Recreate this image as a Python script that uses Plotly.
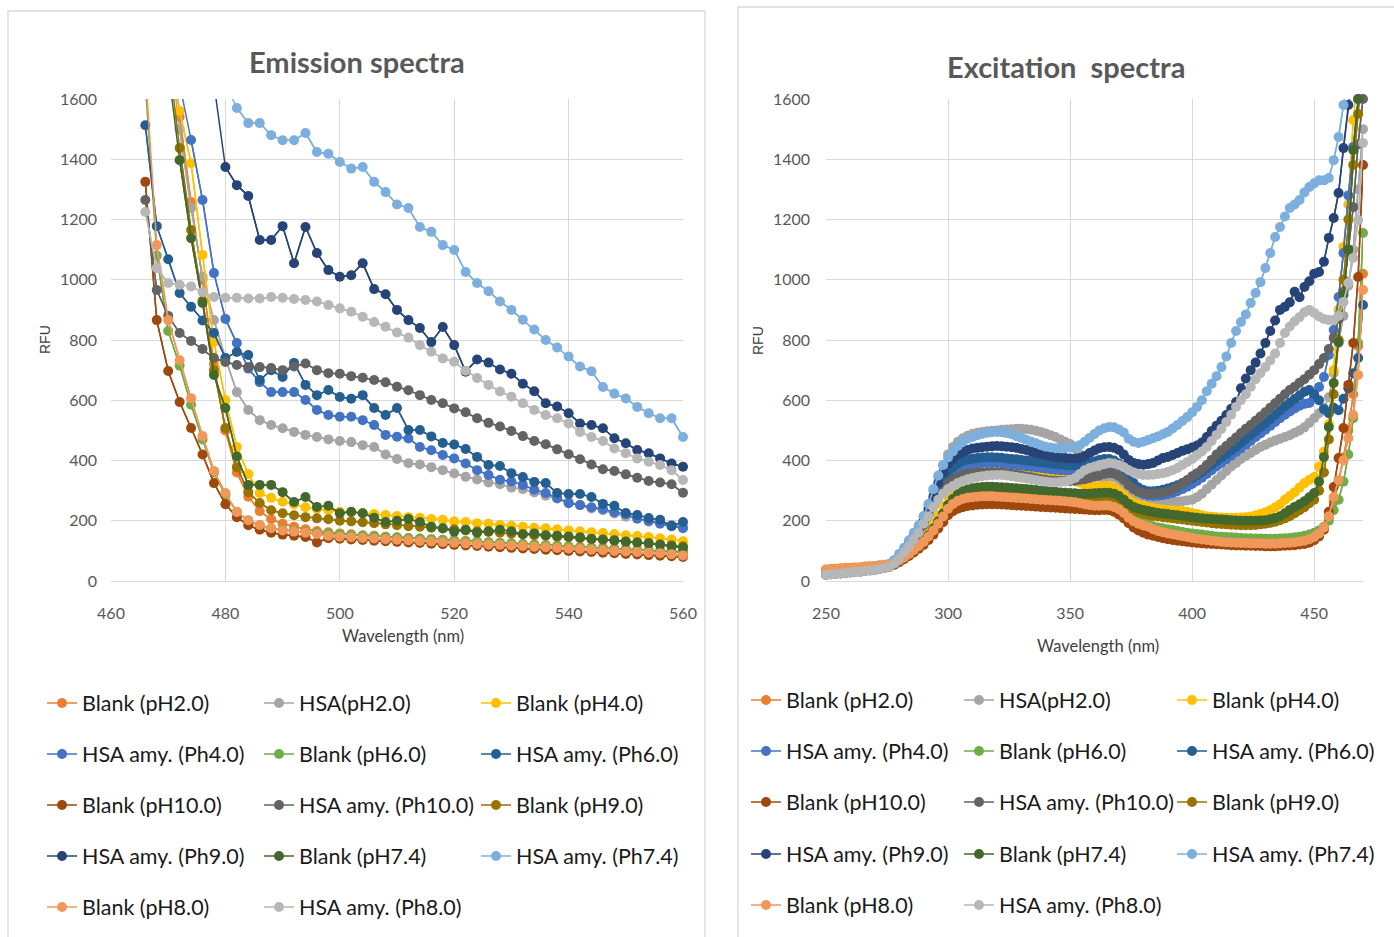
import plotly.graph_objects as go

W, H = 1394, 937

# ---------------- data ----------------
SERIES_NAMES = ["Blank (pH2.0)", "HSA(pH2.0)", "Blank (pH4.0)",
                "HSA amy. (Ph4.0)", "Blank (pH6.0)", "HSA amy. (Ph6.0)",
                "Blank (pH10.0)", "HSA amy. (Ph10.0)", "Blank (pH9.0)",
                "HSA amy. (Ph9.0)", "Blank (pH7.4)", "HSA amy. (Ph7.4)",
                "Blank (pH8.0)", "HSA amy. (Ph8.0)"]
COLORS = ["#ED7D31", "#A5A5A5", "#FFC000", "#4472C4", "#70AD47", "#255E91",
          "#9E480E", "#636363", "#997300", "#264478", "#43682B", "#7CAFDD",
          "#F1975A", "#B7B7B7"]

EM_X = list(range(466, 561, 2))
EX_X = list(range(250, 471, 2))

em_blank_ph2 = [3200, 2500, 1950, 1540, 1258, 1000, 720, 500, 360, 280, 232, 205,
                190, 180, 172, 166, 162, 158, 155, 152, 150, 147, 145, 143,
                141, 139, 137, 135, 133, 131, 129, 127, 125, 123, 121, 119,
                117, 115, 113, 111, 110, 108, 106, 104, 102, 100, 99, 97]
em_hsa_ph2 = [2500, 2100, 1800, 1500, 1238, 1010, 866, 740, 627, 568, 534, 518,
              507, 495, 485, 478, 470, 465, 461, 451, 445, 420, 405, 391,
              387, 378, 368, 357, 346, 337, 327, 321, 310, 305, 294, 283,
              274, 263, 252, 241, 235, 224, 213, 208, 197, 192, 186, 180]
em_blank_ph4 = [2800, 2300, 1800, 1560, 1387, 1082, 793, 601, 445, 355, 292, 276,
                263, 255, 245, 240, 235, 230, 228, 226, 222, 219, 216, 212,
                210, 206, 203, 198, 196, 192, 190, 186, 183, 180, 177, 175,
                172, 168, 165, 162, 159, 156, 152, 149, 146, 142, 138, 132]
em_hsa_ph4 = [2400, 2100, 1850, 1650, 1464, 1265, 1022, 870, 790, 705, 660, 627,
              627, 627, 601, 568, 551, 545, 545, 534, 518, 485, 479, 473,
              445, 434, 418, 407, 390, 368, 352, 336, 330, 319, 303, 292,
              275, 258, 252, 245, 239, 228, 222, 207, 200, 190, 182, 175]
em_blank_ph6 = [1650, 1080, 830, 715, 585, 470, 360, 285, 230, 200, 185, 175,
                170, 166, 162, 160, 158, 155, 152, 150, 148, 146, 144, 142,
                140, 138, 136, 134, 132, 130, 128, 126, 124, 122, 120, 118,
                116, 114, 112, 110, 108, 106, 104, 102, 100, 98, 96, 95]
em_hsa_ph6 = [1513, 1178, 1068, 956, 910, 865, 823, 740, 760, 750, 667, 700,
              677, 724, 651, 617, 634, 611, 605, 617, 574, 551, 574, 501,
              501, 480, 458, 453, 438, 412, 385, 382, 358, 345, 329, 325,
              292, 289, 289, 279, 256, 250, 226, 219, 209, 203, 183, 196]
em_blank_ph10 = [1325, 866, 697, 594, 508, 420, 325, 255, 212, 185, 170, 160,
                 154, 150, 146, 128, 142, 140, 138, 136, 134, 132, 130, 128,
                 126, 124, 122, 120, 118, 116, 114, 112, 110, 108, 106, 104,
                 102, 100, 98, 96, 94, 92, 90, 88, 86, 84, 82, 80]
em_hsa_ph10 = [1265, 966, 880, 823, 797, 770, 740, 727, 717, 710, 710, 707,
               700, 712, 722, 700, 690, 688, 680, 675, 667, 660, 645, 633,
               617, 601, 590, 573, 560, 540, 525, 513, 498, 481, 465, 454,
               437, 421, 404, 387, 371, 365, 354, 343, 332, 327, 321, 293]
em_blank_ph9 = [2700, 2200, 1750, 1437, 1165, 930, 700, 508, 378, 295, 259, 235,
                225, 218, 212, 208, 205, 200, 198, 195, 192, 188, 185, 182,
                180, 177, 174, 172, 168, 165, 163, 160, 157, 155, 152, 150,
                147, 145, 142, 139, 137, 134, 131, 128, 125, 122, 119, 115]
em_hsa_ph9 = [3500, 3100, 2700, 2400, 2100, 1850, 1650, 1374, 1314, 1278, 1132, 1132,
              1178, 1055, 1175, 1089, 1032, 1010, 1015, 1055, 969, 952, 900, 866,
              840, 793, 843, 783, 695, 735, 725, 702, 688, 655, 630, 590,
              579, 557, 523, 518, 507, 474, 457, 435, 424, 407, 390, 379]
em_blank_ph74 = [2600, 2100, 1700, 1397, 1138, 923, 684, 574, 413, 319, 319, 319,
                 295, 262, 279, 246, 250, 225, 230, 225, 210, 196, 200, 206,
                 196, 180, 175, 164, 170, 160, 165, 170, 165, 155, 158, 152,
                 150, 148, 145, 140, 138, 135, 130, 128, 125, 120, 115, 110]
em_hsa_ph74 = [3800, 3300, 2900, 2600, 2300, 2050, 1800, 1650, 1570, 1520, 1520, 1480,
               1463, 1463, 1487, 1424, 1418, 1391, 1369, 1374, 1325, 1291, 1250, 1238,
               1175, 1159, 1115, 1099, 1026, 989, 962, 928, 900, 867, 835, 800,
               775, 745, 712, 696, 644, 622, 606, 578, 557, 540, 540, 478]
em_blank_ph8 = [1700, 1115, 866, 733, 607, 481, 365, 292, 229, 202, 186, 175,
                168, 164, 160, 156, 150, 147, 145, 143, 141, 139, 137, 135,
                133, 131, 129, 127, 125, 123, 121, 120, 118, 116, 114, 112,
                110, 108, 106, 104, 102, 100, 98, 96, 94, 92, 89, 85]
em_hsa_ph8 = [1225, 1039, 989, 983, 978, 959, 943, 940, 940, 938, 938, 943,
              940, 936, 933, 928, 916, 905, 894, 877, 860, 844, 825, 808,
              783, 761, 739, 728, 698, 674, 651, 629, 612, 590, 568, 551,
              540, 523, 495, 478, 465, 440, 424, 407, 396, 385, 368, 335]

ex_blank_ph2 = [38, 40, 41, 42, 43, 44, 45, 46, 48, 49,
                50, 52, 54, 56, 62, 70, 80, 92, 105, 118,
                132, 150, 170, 192, 215, 238, 252, 260, 266, 270,
                272, 274, 275, 275, 275, 274, 273, 272, 271, 270,
                268, 267, 266, 265, 264, 263, 262, 261, 260, 259,
                258, 256, 255, 254, 253, 253, 254, 255, 255, 252,
                245, 232, 215, 200, 188, 178, 170, 165, 160, 156,
                152, 149, 146, 143, 140, 138, 136, 134, 132, 130,
                129, 128, 127, 126, 125, 125, 124, 124, 124, 124,
                124, 124, 125, 125, 126, 127, 128, 130, 133, 138,
                146, 158, 178, 210, 265, 330, 410, 500, 620, 780,
                1020]
ex_hsa_ph2 = [22, 24, 25, 27, 28, 30, 32, 33, 35, 37,
              39, 42, 45, 49, 60, 80, 102, 128, 155, 182,
              215, 255, 300, 345, 385, 420, 445, 462, 474, 482,
              488, 492, 495, 497, 499, 500, 502, 503, 504, 505,
              505, 504, 502, 499, 495, 490, 484, 478, 470, 462,
              455, 440, 420, 395, 372, 355, 345, 342, 345, 344,
              335, 320, 300, 290, 282, 276, 272, 270, 268, 266,
              265, 264, 264, 265, 267, 270, 278, 290, 305, 320,
              335, 350, 365, 380, 392, 405, 415, 425, 435, 445,
              452, 460, 466, 472, 478, 484, 492, 500, 510, 525,
              540, 557, 575, 610, 690, 790, 880, 980, 1100, 1300,
              1500]
ex_blank_ph4 = [35, 37, 38, 39, 40, 41, 42, 43, 45, 46,
                47, 49, 51, 53, 59, 68, 80, 93, 108, 124,
                142, 164, 190, 218, 248, 280, 305, 325, 338, 346,
                350, 354, 357, 359, 360, 360, 360, 359, 358, 357,
                356, 355, 354, 353, 352, 350, 348, 346, 343, 340,
                336, 331, 326, 320, 316, 314, 314, 315, 315, 310,
                298, 285, 270, 260, 254, 250, 246, 242, 239, 237,
                235, 234, 233, 232, 230, 226, 222, 218, 215, 213,
                212, 211, 210, 210, 210, 211, 212, 214, 218, 222,
                228, 235, 245, 255, 270, 282, 295, 310, 325, 335,
                345, 380, 430, 520, 700, 900, 1109, 1250, 1530, 1700,
                1800]
ex_hsa_ph4 = [23, 25, 26, 28, 29, 31, 33, 34, 36, 38,
              40, 43, 46, 50, 60, 77, 97, 118, 140, 165,
              192, 225, 262, 295, 322, 342, 358, 370, 378, 384,
              388, 390, 392, 393, 393, 392, 391, 389, 387, 385,
              383, 381, 379, 377, 375, 373, 371, 369, 368, 367,
              366, 366, 367, 370, 374, 379, 384, 386, 386, 382,
              372, 355, 332, 310, 296, 288, 284, 282, 283, 285,
              288, 292, 298, 305, 313, 322, 332, 343, 355, 368,
              380, 392, 404, 416, 428, 440, 452, 465, 478, 490,
              502, 515, 528, 540, 552, 563, 573, 582, 588, 591,
              610, 644, 677, 750, 833, 943, 1089, 1280, 1441, 1600,
              1750]
ex_blank_ph6 = [32, 34, 35, 36, 37, 38, 39, 40, 42, 43,
                44, 46, 48, 50, 56, 65, 76, 88, 101, 114,
                128, 146, 166, 188, 212, 238, 256, 268, 276, 281,
                284, 286, 288, 288, 288, 287, 286, 285, 284, 283,
                282, 281, 280, 279, 277, 276, 275, 274, 272, 271,
                270, 268, 266, 264, 262, 261, 262, 263, 262, 258,
                250, 238, 222, 210, 200, 193, 188, 182, 178, 175,
                172, 169, 166, 163, 160, 158, 156, 154, 152, 150,
                148, 147, 146, 145, 144, 143, 142, 142, 141, 141,
                140, 140, 140, 141, 142, 143, 145, 147, 150, 154,
                160, 168, 180, 200, 235, 270, 330, 420, 540, 790,
                1155]
ex_hsa_ph6 = [24, 26, 27, 29, 30, 32, 34, 35, 37, 39,
              41, 44, 47, 51, 61, 78, 98, 120, 143, 168,
              195, 230, 270, 305, 335, 360, 378, 390, 398, 403,
              406, 408, 410, 411, 411, 410, 409, 407, 405, 404,
              402, 400, 398, 396, 394, 392, 390, 388, 386, 385,
              384, 384, 385, 388, 392, 397, 402, 405, 405, 400,
              390, 372, 348, 325, 310, 302, 298, 298, 300, 303,
              307, 312, 318, 325, 333, 342, 352, 362, 374, 386,
              398, 410, 422, 434, 446, 458, 472, 485, 498, 511,
              524, 538, 552, 566, 580, 592, 604, 616, 628, 634,
              620, 600, 570, 557, 575, 567, 605, 640, 690, 740,
              916]
ex_blank_ph10 = [30, 32, 33, 34, 35, 36, 37, 38, 40, 41,
                 42, 44, 46, 48, 54, 62, 72, 83, 95, 107,
                 120, 136, 154, 174, 195, 218, 232, 240, 245, 249,
                 251, 253, 254, 255, 255, 255, 254, 253, 252, 251,
                 250, 249, 248, 247, 246, 245, 244, 243, 242, 241,
                 240, 239, 238, 237, 236, 235, 235, 236, 235, 230,
                 220, 208, 192, 178, 168, 160, 154, 150, 146, 142,
                 139, 136, 134, 132, 130, 128, 126, 125, 124, 123,
                 122, 121, 120, 119, 118, 118, 117, 117, 116, 116,
                 115, 115, 115, 116, 117, 118, 119, 121, 123, 127,
                 135, 148, 170, 230, 312, 408, 508, 651, 790, 1009,
                 1381]
ex_hsa_ph10 = [20, 22, 23, 25, 26, 28, 30, 31, 33, 35,
               37, 40, 43, 47, 57, 72, 92, 112, 135, 158,
               185, 215, 250, 280, 305, 325, 338, 346, 352, 356,
               358, 360, 361, 362, 362, 361, 360, 358, 356, 353,
               350, 347, 344, 341, 338, 336, 334, 333, 332, 332,
               332, 333, 335, 338, 342, 346, 350, 355, 358, 356,
               348, 335, 318, 305, 296, 292, 290, 290, 291, 294,
               298, 304, 312, 322, 335, 348, 358, 370, 385, 402,
               420, 434, 448, 462, 476, 491, 505, 518, 532, 546,
               560, 575, 590, 605, 620, 634, 645, 658, 670, 685,
               700, 720, 740, 770, 807, 870, 960, 1100, 1241, 1450,
               1600]
ex_blank_ph9 = [33, 35, 36, 37, 38, 39, 40, 41, 43, 44,
                45, 47, 49, 51, 57, 66, 77, 89, 102, 116,
                131, 150, 172, 196, 222, 250, 270, 284, 292, 296,
                298, 300, 302, 303, 303, 302, 302, 301, 300, 300,
                299, 298, 297, 296, 295, 294, 293, 291, 289, 287,
                285, 283, 281, 280, 280, 280, 281, 282, 282, 278,
                270, 258, 244, 235, 228, 223, 219, 216, 214, 212,
                210, 208, 206, 204, 202, 200, 198, 196, 194, 192,
                190, 189, 188, 187, 186, 185, 185, 185, 186, 188,
                190, 193, 197, 202, 208, 215, 225, 235, 245, 258,
                270, 300, 360, 470, 620, 800, 1000, 1200, 1381, 1550,
                1700]
ex_hsa_ph9 = [25, 27, 28, 30, 31, 33, 35, 36, 38, 40,
              42, 45, 48, 52, 62, 80, 100, 120, 145, 170,
              200, 240, 280, 325, 360, 390, 405, 420, 428, 435,
              440, 442, 444, 446, 447, 448, 447, 446, 444, 442,
              438, 435, 430, 425, 421, 418, 415, 412, 410, 408,
              407, 407, 408, 415, 425, 433, 441, 444, 445, 442,
              435, 420, 402, 392, 388, 386, 388, 392, 400, 408,
              412, 418, 425, 432, 437, 443, 450, 460, 478, 498,
              515, 532, 551, 572, 594, 640, 672, 700, 725, 755,
              790, 830, 865, 900, 910, 925, 960, 942, 976, 995,
              1020, 1026, 1060, 1139, 1205, 1288, 1437, 1580, 1700, 1800,
              1900]
ex_blank_ph74 = [34, 36, 37, 38, 39, 40, 41, 42, 44, 45,
                 46, 48, 50, 52, 58, 67, 78, 90, 104, 118,
                 133, 152, 174, 198, 224, 252, 272, 288, 298, 304,
                 308, 310, 312, 313, 313, 312, 311, 310, 309, 308,
                 306, 305, 304, 302, 300, 299, 297, 296, 294, 293,
                 292, 291, 290, 290, 290, 291, 292, 293, 293, 290,
                 282, 270, 256, 246, 240, 236, 232, 229, 226, 224,
                 222, 220, 218, 216, 214, 212, 210, 208, 207, 206,
                 205, 204, 203, 202, 201, 200, 200, 200, 200, 201,
                 202, 205, 209, 215, 225, 236, 246, 255, 265, 278,
                 292, 330, 412, 511, 657, 793, 950, 1100, 1431, 1600,
                 1750]
ex_hsa_ph74 = [30, 32, 33, 35, 36, 38, 40, 41, 43, 45,
               48, 50, 53, 57, 70, 90, 110, 135, 160, 185,
               215, 255, 305, 350, 385, 410, 430, 448, 462, 472,
               478, 484, 488, 492, 494, 495, 494, 491, 487, 481,
               475, 469, 463, 457, 451, 446, 443, 441, 440, 441,
               443, 446, 451, 462, 475, 488, 500, 507, 511, 510,
               503, 493, 472, 462, 458, 462, 468, 474, 480, 487,
               495, 506, 518, 531, 544, 560, 578, 600, 630, 655,
               680, 710, 745, 790, 830, 860, 885, 923, 956, 992,
               1039, 1089, 1142, 1175, 1210, 1238, 1250, 1265, 1290, 1308,
               1320, 1330, 1330, 1338, 1397, 1474, 1580, 1700, 1800, 1900,
               2000]
ex_blank_ph8 = [36, 38, 39, 40, 41, 42, 43, 44, 46, 47,
                48, 50, 52, 54, 60, 68, 78, 90, 103, 116,
                130, 148, 168, 190, 214, 240, 256, 266, 272, 276,
                278, 280, 281, 281, 281, 280, 279, 278, 277, 276,
                275, 274, 272, 271, 270, 269, 268, 267, 266, 265,
                263, 261, 258, 255, 252, 250, 250, 251, 250, 246,
                238, 226, 210, 198, 190, 184, 180, 172, 166, 162,
                158, 155, 152, 149, 146, 143, 140, 138, 136, 134,
                132, 130, 129, 128, 127, 126, 126, 125, 125, 125,
                124, 124, 124, 125, 126, 127, 129, 131, 134, 139,
                146, 158, 178, 215, 279, 335, 401, 474, 551, 684,
                966]
ex_hsa_ph8 = [20, 22, 23, 25, 26, 28, 30, 31, 33, 35,
              37, 40, 43, 47, 58, 75, 95, 115, 138, 160,
              190, 215, 245, 270, 290, 305, 315, 325, 332, 338,
              342, 345, 348, 350, 351, 352, 352, 350, 348, 345,
              343, 340, 338, 335, 332, 330, 328, 328, 329, 330,
              335, 342, 355, 368, 375, 380, 385, 388, 392, 390,
              385, 378, 368, 360, 355, 352, 352, 353, 355, 358,
              362, 368, 375, 385, 395, 405, 418, 430, 445, 465,
              485, 505, 528, 552, 578, 600, 620, 645, 670, 690,
              710, 732, 755, 790, 823, 845, 862, 876, 892, 900,
              890, 878, 870, 866, 866, 880, 926, 989, 1072, 1198,
              1454]

EM_SERIES = [em_blank_ph2, em_hsa_ph2, em_blank_ph4, em_hsa_ph4, em_blank_ph6,
             em_hsa_ph6, em_blank_ph10, em_hsa_ph10, em_blank_ph9, em_hsa_ph9,
             em_blank_ph74, em_hsa_ph74, em_blank_ph8, em_hsa_ph8]
EX_SERIES = [ex_blank_ph2, ex_hsa_ph2, ex_blank_ph4, ex_hsa_ph4, ex_blank_ph6,
             ex_hsa_ph6, ex_blank_ph10, ex_hsa_ph10, ex_blank_ph9, ex_hsa_ph9,
             ex_blank_ph74, ex_hsa_ph74, ex_blank_ph8, ex_hsa_ph8]

Y_MAX = 1600
Y_TICKS = [0, 200, 400, 600, 800, 1000, 1200, 1400, 1600]
EM_TICKS = [460, 480, 500, 520, 540, 560]
EX_TICKS = [250, 300, 350, 400, 450]

# ---------------- figure ----------------
FONT = "Lato"
fig = go.Figure()


def add_series(xs, ys, name, color, xa, ya, legend_name):
    in_range = [v if v <= Y_MAX else None for v in ys]
    fig.add_trace(go.Scatter(x=xs, y=ys, mode="lines", xaxis=xa, yaxis=ya,
                             line=dict(color=color, width=1.5),
                             showlegend=False, hoverinfo="skip"))
    fig.add_trace(go.Scatter(x=xs, y=in_range, mode="lines+markers", name=name,
                             xaxis=xa, yaxis=ya, cliponaxis=False,
                             line=dict(color=color, width=1.5),
                             marker=dict(color=color, size=10),
                             legend=legend_name))


for i, (name, color) in enumerate(zip(SERIES_NAMES, COLORS)):
    row = i // 3
    leg_left = "legend" if row == 0 else f"legend{row + 1}"
    leg_right = f"legend{row + 6}"
    add_series(EM_X, EM_SERIES[i], name, color, "x", "y", leg_left)
    add_series(EX_X, EX_SERIES[i], name, color, "x2", "y2", leg_right)


def px_x(p):
    return p / W


def px_y(p):
    return 1 - p / H


axis_common = dict(showgrid=True, gridcolor="#D9D9D9", gridwidth=1, zeroline=False,
                   tickfont=dict(family=FONT, size=16, color="#595959"),
                   ticks="", fixedrange=True, automargin=False)

ydom = [px_y(581), px_y(99)]
layout = dict(
    width=W, height=H,
    margin=dict(l=0, r=0, t=0, b=0, autoexpand=False),
    paper_bgcolor="white", plot_bgcolor="white",
    xaxis=dict(domain=[px_x(111), px_x(683)], anchor="y", range=[460, 560],
               tickvals=EM_TICKS, showline=True, linecolor="#D9D9D9",
               ticklabelstandoff=18, **axis_common),
    yaxis=dict(domain=ydom, anchor="x", range=[0, Y_MAX], tickvals=Y_TICKS,
               showline=False, ticklabelstandoff=13, **axis_common),
    xaxis2=dict(domain=[px_x(826), px_x(1363)], anchor="y2", range=[250, 470],
                tickvals=EX_TICKS, showline=True, linecolor="#D9D9D9",
                ticklabelstandoff=18, **axis_common),
    yaxis2=dict(domain=ydom, anchor="x2", range=[0, Y_MAX], tickvals=Y_TICKS,
                showline=False, ticklabelstandoff=15, **axis_common),
)

LEFT_ROWS = [703, 754, 805, 856, 907]
RIGHT_ROWS = [700, 751, 802, 854, 905]
for r in range(5):
    for side in range(2):
        idx = r + 1 + side * 5
        key = "legend" if idx == 1 else f"legend{idx}"
        ypx = LEFT_ROWS[r] if side == 0 else RIGHT_ROWS[r]
        xpx = 42 if side == 0 else 746
        layout[key] = dict(orientation="h", x=px_x(xpx), y=px_y(ypx),
                           xanchor="left", yanchor="middle",
                           entrywidth=172 if side == 0 else 168,
                           entrywidthmode="pixels",
                           font=dict(family=FONT, size=21.5, color="#1a1a1a"),
                           bgcolor="rgba(0,0,0,0)", borderwidth=0,
                           itemwidth=30, traceorder="normal")

fig.update_layout(**layout)

fig.add_shape(type="rect", xref="paper", yref="paper", x0=px_x(8), x1=px_x(705),
              y0=-0.05, y1=px_y(11), line=dict(color="#D9D9D9", width=1.3),
              layer="below")
fig.add_shape(type="rect", xref="paper", yref="paper", x0=px_x(738), x1=1.05,
              y0=-0.05, y1=px_y(7), line=dict(color="#D9D9D9", width=1.3),
              layer="below")


def label(text, xp, yp, font, angle=0):
    fig.add_annotation(text=text, x=px_x(xp), y=px_y(yp), xref="paper", yref="paper",
                       xanchor="center", yanchor="middle", showarrow=False,
                       textangle=angle, font=font)


title_font = dict(family=FONT, size=29, color="#595959", weight="bold")
label("Emission spectra", 357, 61, title_font)
label("Excitation  spectra", 1066, 66, title_font)

lab_font = dict(family=FONT, size=16.5, color="#404040")
label("Wavelength (nm)", 403, 636, lab_font)
label("Wavelength (nm)", 1098, 646, lab_font)
rfu_font = dict(family="Liberation Sans", size=14, color="#404040")
label("RFU", 45, 340, rfu_font, -90)
label("RFU", 758, 340, rfu_font, -90)

fig.write_html("out.html")
